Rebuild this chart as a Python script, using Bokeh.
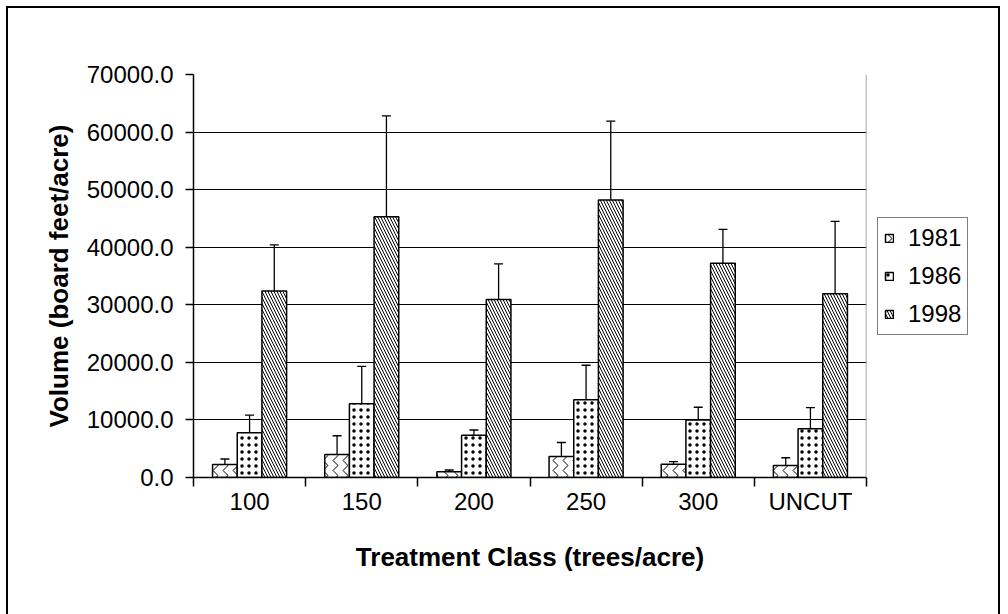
from bokeh.plotting import figure
from bokeh.models import (ColumnDataSource, Range1d, FixedTicker, NumeralTickFormatter,
                          Whisker, TeeHead, Legend, LegendItem, Span)
from bokeh.embed import file_html
from bokeh.resources import INLINE

categories = ["100", "150", "200", "250", "300", "UNCUT"]
years = ["1981", "1986", "1998"]

vol_1981 = [2260, 4000, 1000, 3650, 2300, 2090]
err_1981 = [950, 3250, 300, 2430, 450, 1340]
vol_1986 = [7770, 12800, 7350, 13500, 10000, 8470]
err_1986 = [3050, 6500, 900, 6000, 2200, 3650]
vol_1998 = [32400, 45300, 30900, 48200, 37200, 31900]
err_1998 = [8000, 17500, 6200, 13700, 5900, 12600]

y_ticks = [0, 10000, 20000, 30000, 40000, 50000, 60000, 70000]

series = [(vol_1981, err_1981), (vol_1986, err_1986), (vol_1998, err_1998)]
hatches = [dict(hatch_pattern="vertical_wave", hatch_scale=10, hatch_weight=1.0),
           dict(hatch_pattern="dot", hatch_scale=7, hatch_weight=0.4),
           dict(hatch_pattern="left_diagonal_line", hatch_scale=6, hatch_weight=1.0)]
offsets = [-0.22, 0.0, 0.22]
bar_w = 0.22

FONT = "Liberation Sans"

p = figure(frame_width=673, frame_height=403, output_backend="svg", toolbar_location=None,
           x_range=Range1d(0, len(categories)), y_range=Range1d(0, 70000),
           min_border_left=193, min_border_right=142, min_border_top=74,
           min_border_bottom=137)
p.outline_line_color = None
p.border_fill_alpha = 0
p.styles = {
    "background": ("linear-gradient(#000,#000) 6px 6px / 2px 100% no-repeat, "
                   "linear-gradient(#000,#000) 6px 6px / 994px 2px no-repeat, "
                   "linear-gradient(#000,#000) 998px 6px / 2px 100% no-repeat, #fff"),
}

centers = [i + 0.5 for i in range(len(categories))]

items = []
for (vals, errs), off, h, yr in zip(series, offsets, hatches, years):
    src = ColumnDataSource(dict(
        x=[c + off for c in centers],
        top=vals,
        upper=[v + e for v, e in zip(vals, errs)],
        lower=[v - e for v, e in zip(vals, errs)],
    ))
    r = p.vbar(x="x", top="top", bottom=0, width=bar_w, source=src,
               fill_color="white", line_color="black", line_width=1.5,
               hatch_color="black", **h)
    items.append(LegendItem(label=yr, renderers=[r]))
    w = Whisker(source=src, base="x", upper="upper", lower="lower",
                line_color="black", line_width=1.3,
                upper_head=TeeHead(size=9, line_color="black", line_width=1.3),
                lower_head=TeeHead(size=9, line_color="black", line_width=1.3))
    p.add_layout(w)

p.add_layout(Span(location=len(categories), dimension="height",
                  line_color="#8c8c8c", line_width=1.5))

# y axis
p.yaxis.ticker = FixedTicker(ticks=y_ticks, minor_ticks=[])
p.yaxis.formatter = NumeralTickFormatter(format="0.0")
p.yaxis.axis_label = "Volume (board feet/acre)"
p.yaxis.major_tick_out = 8
p.yaxis.major_tick_in = 0
p.yaxis.major_label_standoff = 12
p.yaxis.axis_label_standoff = 10

# x axis
p.xaxis.ticker = FixedTicker(ticks=centers, minor_ticks=list(range(len(categories) + 1)))
p.xaxis.major_label_overrides = {c: name for c, name in zip(centers, categories)}
p.xaxis.axis_label = "Treatment Class (trees/acre)"
p.xaxis.major_tick_line_color = None
p.xaxis.major_tick_out = 0
p.xaxis.major_tick_in = 0
p.xaxis.minor_tick_line_color = "black"
p.xaxis.minor_tick_out = 9
p.xaxis.minor_tick_in = 0
p.xaxis.minor_tick_line_width = 1.5
p.xaxis.major_label_standoff = 1
p.xaxis.axis_label_standoff = 24

for ax in (p.xaxis, p.yaxis):
    ax.axis_line_color = "black"
    ax.axis_line_width = 1.5
    ax.major_tick_line_width = 1.5
    ax.major_label_text_font = FONT
    ax.major_label_text_font_size = "24px"
    ax.major_label_text_color = "black"
    ax.axis_label_text_font = FONT
    ax.axis_label_text_font_size = "26px"
    ax.axis_label_text_font_style = "bold"
    ax.axis_label_text_color = "black"

p.xgrid.grid_line_color = None
p.ygrid.ticker = FixedTicker(ticks=y_ticks)
p.ygrid.grid_line_color = "black"
p.ygrid.grid_line_width = 1.2

legend = Legend(items=items, location="center_left")
legend.border_line_color = "black"
legend.border_line_width = 1.5
legend.background_fill_color = "white"
legend.label_text_font = FONT
legend.label_text_font_size = "24px"
legend.label_text_color = "black"
legend.glyph_width = 10
legend.glyph_height = 10
legend.label_height = 27
legend.label_standoff = 14
legend.spacing = 10
legend.padding = 6
legend.margin = 11
p.add_layout(legend, "right")

open("out.html", "w").write(file_html(p, INLINE))
